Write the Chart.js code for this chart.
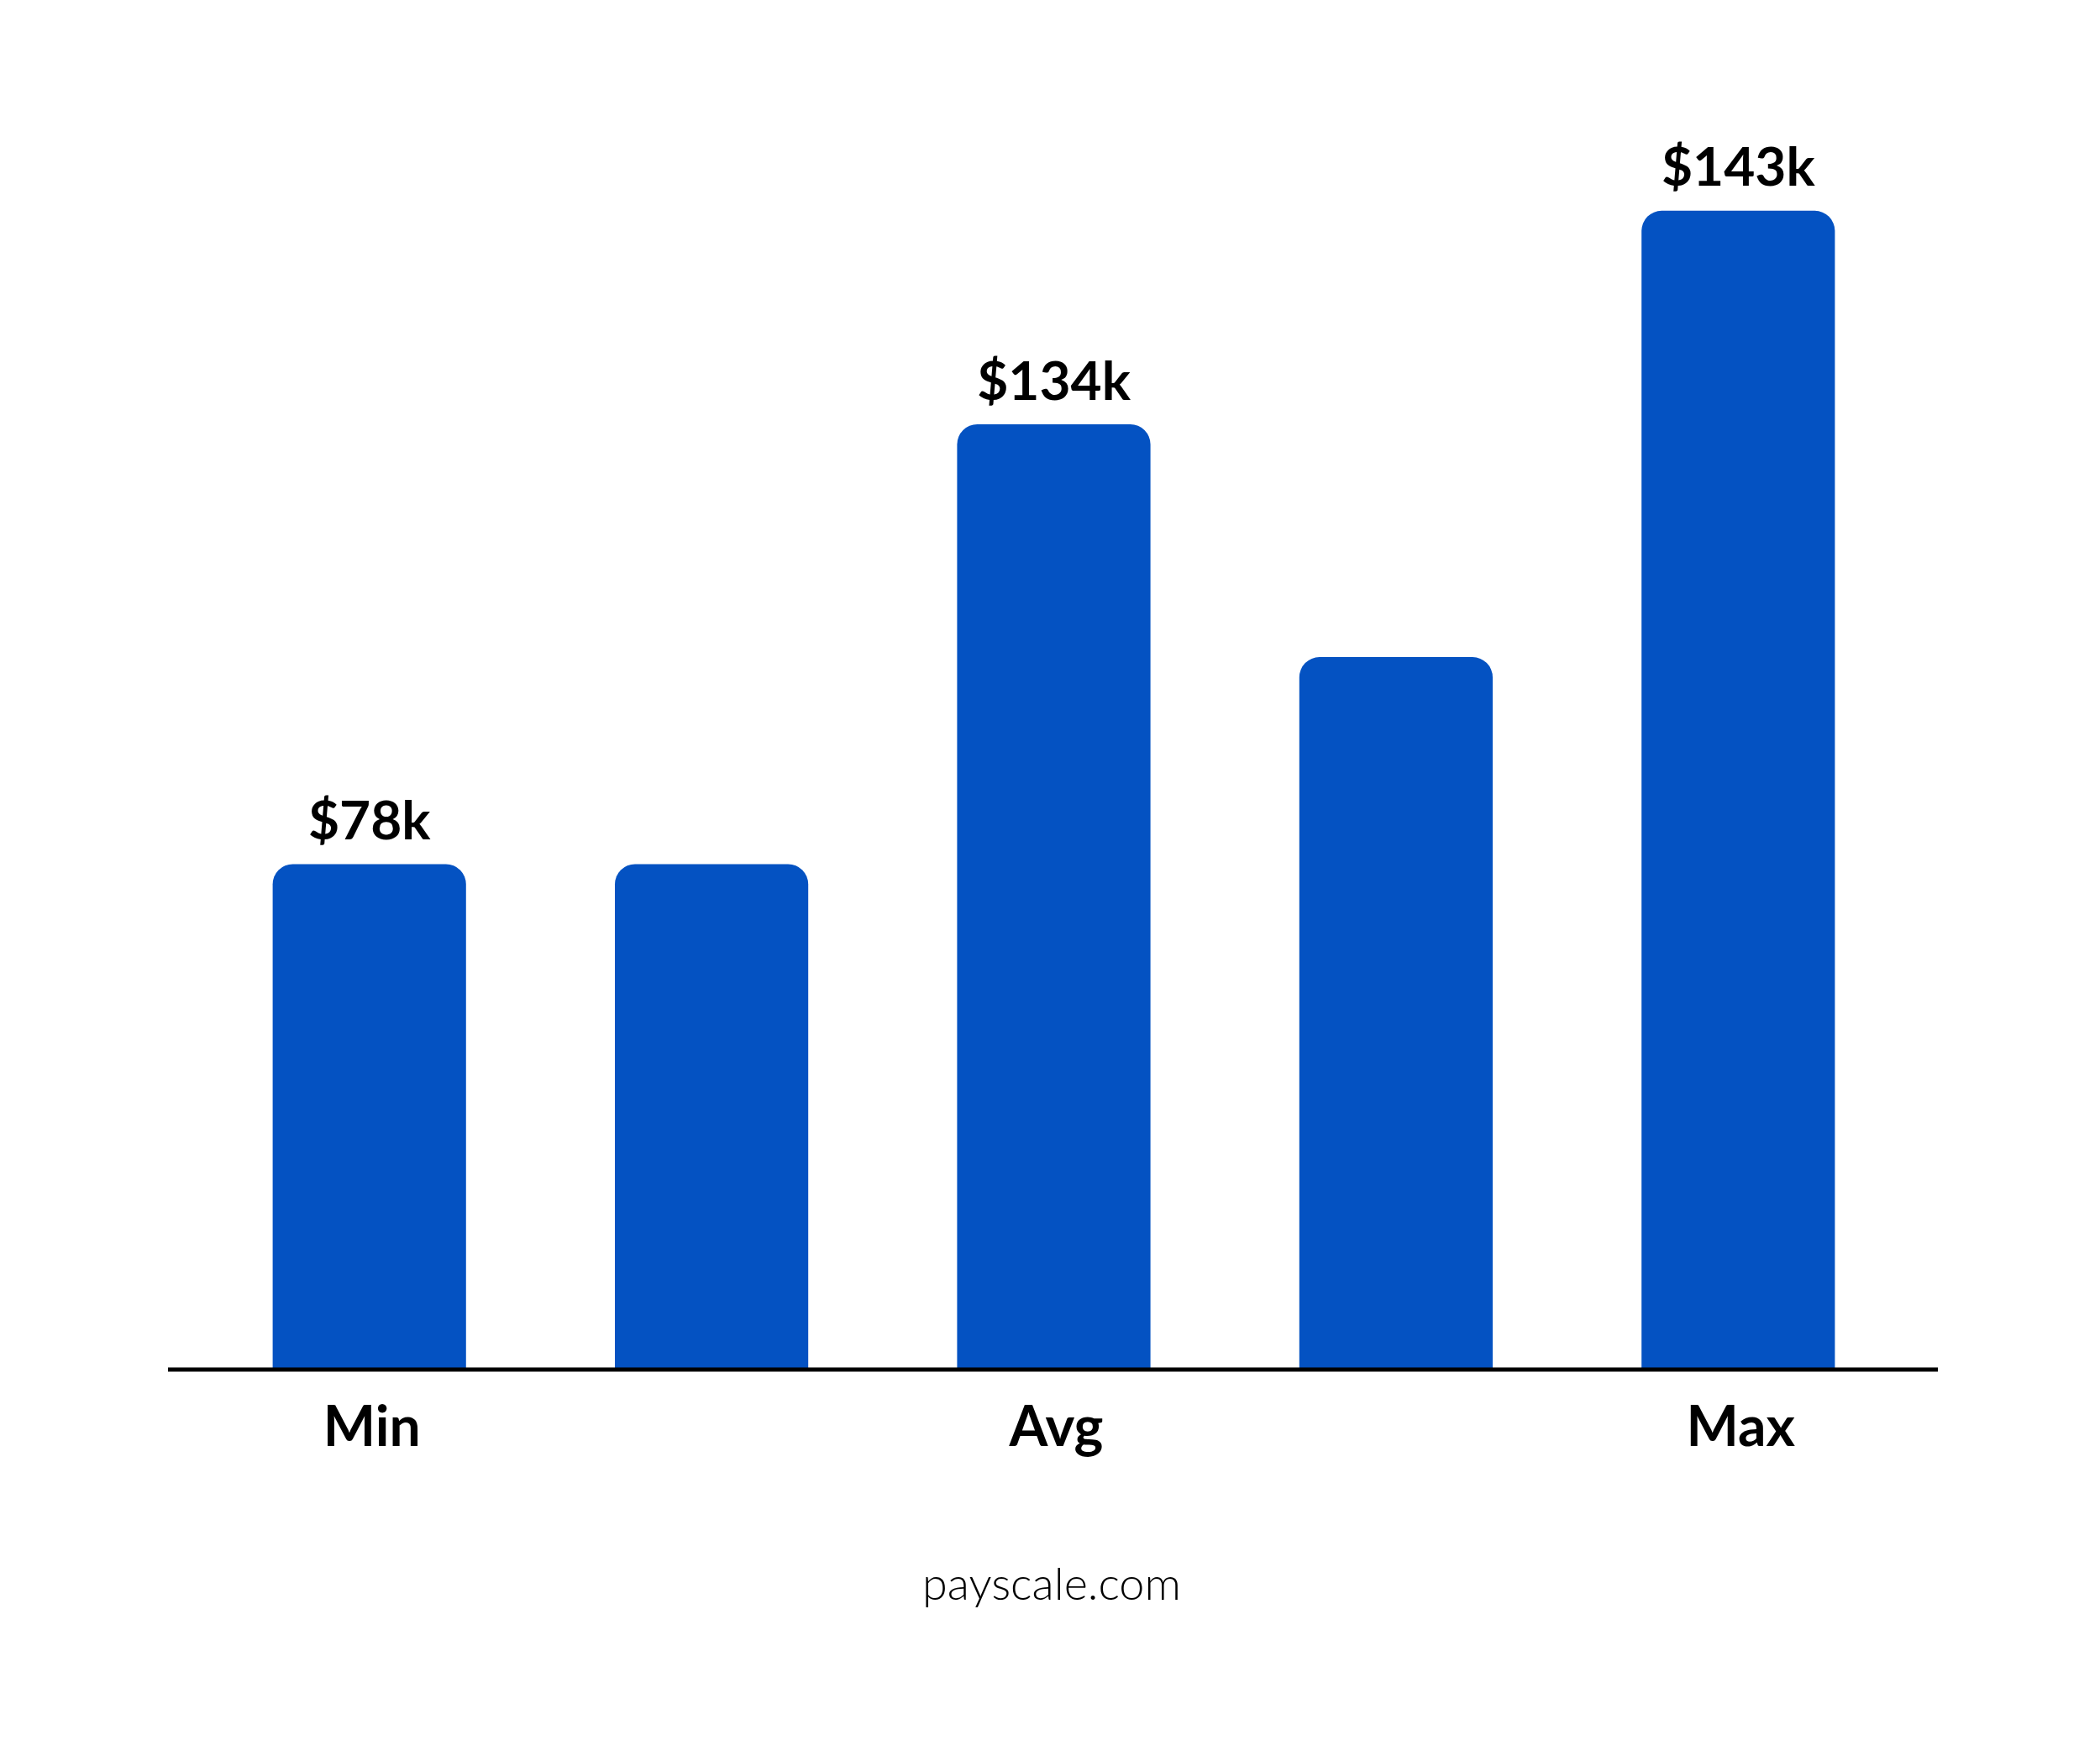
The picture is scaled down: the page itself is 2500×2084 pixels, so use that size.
<!DOCTYPE html>
<html><head><meta charset="utf-8">
<script src="https://cdn.jsdelivr.net/npm/chart.js@4"></script>
<style>html,body{margin:0;padding:0;background:#fff}#w{width:2500px;height:2084px}</style>
</head><body><div id="w"><canvas id="c"></canvas></div>
<script>
const categories = ["Min", "", "Avg", "", "Max"];
const barValues = [78, 78, 146, 110, 179];
const valueLabels = ["$78k", "", "$134k", "", "$143k"];
const footer = "payscale.com";

const overlay = {
  id: 'overlay',
  afterDatasetsDraw(chart) {
    const ctx = chart.ctx, a = chart.chartArea, meta = chart.getDatasetMeta(0);
    ctx.save();
    ctx.strokeStyle = '#000'; ctx.lineWidth = 5;
    ctx.beginPath(); ctx.moveTo(200, a.bottom + 1); ctx.lineTo(2307, a.bottom + 1); ctx.stroke();
    ctx.fillStyle = '#000'; ctx.textAlign = 'center';
    ctx.font = 'bold 64px Lato, "Noto Sans", sans-serif';
    ctx.textBaseline = 'bottom';
    meta.data.forEach((b, i) => { if (valueLabels[i]) ctx.fillText(valueLabels[i], b.x, b.y - 18); });
    ctx.textBaseline = 'middle';
    ctx.font = 'bold 66px Lato, "Noto Sans", sans-serif';
    meta.data.forEach((b, i) => { if (categories[i]) ctx.fillText(categories[i], b.x + 3, 1700); });
    ctx.font = '300 54px Lato, "Noto Sans", sans-serif';
    ctx.fillText(footer, 1252, 1887);
    ctx.restore();
  }
};

new Chart(document.getElementById('c'), {
  type: 'bar',
  data: { labels: categories, datasets: [{ data: barValues, backgroundColor: '#0452C2',
    borderRadius: { topLeft: 24, topRight: 24 }, borderSkipped: 'bottom',
    barPercentage: 0.565, categoryPercentage: 1 }] },
  options: {
    responsive: true, maintainAspectRatio: false, animation: false,
    layout: { padding: { left: 236, right: 227, top: 200, bottom: 455 } },
    plugins: { legend: { display: false }, tooltip: { enabled: false } },
    scales: { x: { display: false }, y: { display: false, min: 0, max: 185.6 } }
  },
  plugins: [overlay]
});
</script></body></html>
